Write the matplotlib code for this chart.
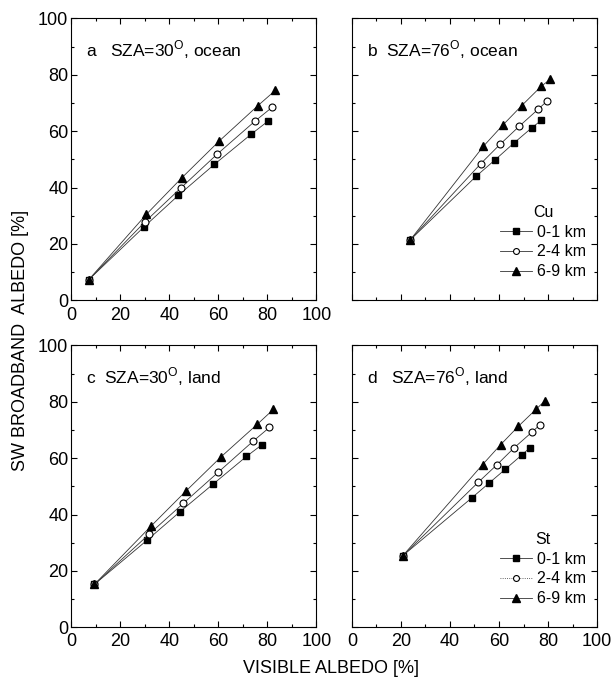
import matplotlib
matplotlib.use("Agg")
import matplotlib.pyplot as plt
from matplotlib.lines import Line2D
from matplotlib.ticker import MultipleLocator

plt.rcParams['font.family'] = ['Liberation Sans', 'DejaVu Sans']
plt.rcParams['mathtext.fontset'] = 'custom'
plt.rcParams['mathtext.rm'] = 'Liberation Sans'

# ---- data (visible albedo, SW broadband albedo, %) ----
# a: SZA=30, ocean (Cu)
a_x_01 = [7.2, 29.8, 43.7, 58.4, 73.4, 80.5]
a_y_01 = [7.3, 26.1, 37.2, 48.2, 58.9, 63.7]
a_x_24 = [7.2, 30.2, 44.7, 59.5, 74.9, 82.0]
a_y_24 = [7.3, 27.9, 39.8, 51.8, 63.5, 68.5]
a_x_69 = [7.2, 30.7, 45.2, 60.4, 76.1, 83.3]
a_y_69 = [7.3, 30.5, 43.5, 56.5, 69.0, 74.5]

# b: SZA=76, ocean (Cu)
b_x_01 = [23.9, 50.8, 58.5, 66.1, 73.5, 77.2]
b_y_01 = [21.5, 44.1, 49.9, 55.8, 61.3, 63.8]
b_x_24 = [23.9, 52.6, 60.4, 68.2, 76.0, 79.6]
b_y_24 = [21.5, 48.5, 55.3, 61.7, 67.8, 70.7]
b_x_69 = [23.9, 53.6, 61.5, 69.3, 77.2, 81.0]
b_y_69 = [21.5, 54.6, 62.1, 69.1, 75.9, 78.5]

# c: SZA=30, land (St)
c_x_01 = [9.5, 31.0, 44.3, 57.8, 71.5, 77.9]
c_y_01 = [15.2, 30.9, 40.9, 50.7, 60.6, 64.8]
c_x_24 = [9.5, 31.8, 45.8, 60.0, 74.2, 80.9]
c_y_24 = [15.2, 33.0, 44.0, 55.0, 66.0, 70.9]
c_x_69 = [9.5, 32.5, 46.7, 61.2, 75.9, 82.5]
c_y_69 = [15.2, 35.8, 48.2, 60.5, 72.0, 77.3]

# d: SZA=76, land (St)
d_x_01 = [20.8, 48.9, 55.9, 62.5, 69.4, 72.5]
d_y_01 = [25.4, 45.9, 51.1, 56.0, 61.2, 63.6]
d_x_24 = [20.8, 51.5, 59.1, 66.1, 73.4, 76.8]
d_y_24 = [25.4, 51.4, 57.6, 63.6, 69.2, 71.9]
d_x_69 = [20.8, 53.3, 60.7, 67.9, 75.3, 78.7]
d_y_69 = [25.4, 57.7, 64.8, 71.3, 77.5, 80.3]

series_labels = ['0-1 km', '2-4 km', '6-9 km']
panel_titles = ['a   SZA=30$^{\\rm O}$, ocean', 'b  SZA=76$^{\\rm O}$, ocean',
                'c  SZA=30$^{\\rm O}$, land', 'd   SZA=76$^{\\rm O}$, land']
ticks = [0, 20, 40, 60, 80, 100]

panels = [
    [(a_x_01, a_y_01), (a_x_24, a_y_24), (a_x_69, a_y_69)],
    [(b_x_01, b_y_01), (b_x_24, b_y_24), (b_x_69, b_y_69)],
    [(c_x_01, c_y_01), (c_x_24, c_y_24), (c_x_69, c_y_69)],
    [(d_x_01, d_y_01), (d_x_24, d_y_24), (d_x_69, d_y_69)],
]

styles = [dict(marker='s', mfc='black', mec='black', ms=5),
          dict(marker='o', mfc='white', mec='black', ms=5, mew=0.8),
          dict(marker='^', mfc='black', mec='black', ms=6)]

fig = plt.figure(figsize=(6.13, 6.84), dpi=100)
W, H = 0.400, 0.412
positions = [(0.116, 0.561), (0.574, 0.561), (0.116, 0.083), (0.574, 0.083)]

axes = []
for i, (l, b) in enumerate(positions):
    ax = fig.add_axes([l, b, W, H])
    axes.append(ax)
    for (xs, ys), st, lab in zip(panels[i], styles, series_labels):
        ax.plot(xs, ys, color='#333333', lw=0.6, label=lab, **st)
    ax.set_xlim(0, 100)
    ax.set_ylim(0, 100)
    ax.set_xticks(ticks)
    ax.set_yticks(ticks)
    ax.xaxis.set_minor_locator(MultipleLocator(10))
    ax.yaxis.set_minor_locator(MultipleLocator(10))
    ax.tick_params(which='both', direction='in', top=True, right=True,
                   labelsize=13, width=0.8)
    ax.tick_params(which='major', length=4)
    ax.tick_params(which='minor', length=2)
    ax.tick_params(axis='x', pad=4.5)
    ax.tick_params(axis='y', pad=2)
    for sp in ax.spines.values():
        sp.set_linewidth(0.8)
    ax.text(0.06, 0.93, panel_titles[i], transform=ax.transAxes,
            fontsize=12.5, va='top', ha='left')

axes[1].tick_params(labelleft=False, labelbottom=False)
axes[3].tick_params(labelleft=False)

# legends
def legend_handles(dotted_mid=False):
    hs = []
    for j, st in enumerate(styles):
        ls = ':' if (dotted_mid and j == 1) else '-'
        hs.append(Line2D([], [], color='#333333', lw=0.6, ls=ls, **st))
    return hs

for ax, title, dotted in [(axes[1], 'Cu', False), (axes[3], 'St', True)]:
    leg = ax.legend(legend_handles(dotted), series_labels, title=title,
                    loc='lower right', bbox_to_anchor=(1.0, 0.035),
                    frameon=False, fontsize=11.5,
                    title_fontsize=11.5, handlelength=2.0, numpoints=1,
                    handletextpad=0.3, labelspacing=0.3,
                    borderaxespad=0.3, markerscale=0.85)

fig.text(0.033, 0.503, 'SW BROADBAND  ALBEDO [%]', rotation=90,
         ha='center', va='center', fontsize=13)
fig.text(0.54, 0.022, 'VISIBLE ALBEDO [%]', ha='center', va='center',
         fontsize=13)

fig.savefig('out.png', dpi=100)
